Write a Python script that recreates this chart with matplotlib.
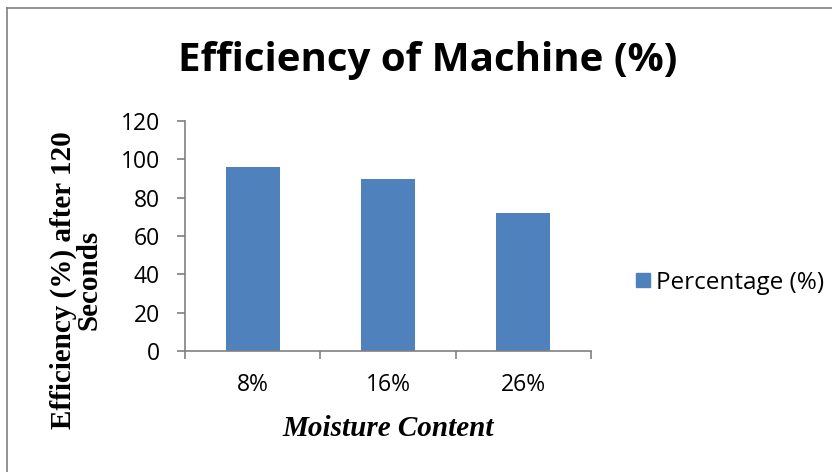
import matplotlib
matplotlib.use("Agg")
import matplotlib.pyplot as plt
from matplotlib.lines import Line2D

categories = ["8%", "16%", "26%"]
values = [96, 90, 72]
yticks = [0, 20, 40, 60, 80, 100, 120]
series_name = "Percentage (%)"

fig = plt.figure(figsize=(8.32, 4.72), dpi=100)
ax = fig.add_axes([185/832, 1-351/472, (591-185)/832, (351-121)/472])

x = list(range(len(categories)))
ax.bar(x, values, width=0.4, color="#4F81BD", label=series_name, zorder=2)
ax.set_xlim(-0.5, len(categories)-0.5)
ax.set_ylim(0, 120)
ax.set_yticks(yticks)
ax.set_yticklabels([str(v) for v in yticks], fontsize=16.5, family="Open Sans")
ax.set_xticks([i - 0.5 for i in range(len(categories)+1)])
ax.set_xticklabels([])
ax.set_xticks(x, minor=True)
ax.set_xticklabels(categories, minor=True, fontsize=16.5, family="Open Sans")
ax.tick_params(axis="x", which="minor", length=0, pad=16)
ax.tick_params(axis="x", which="major", length=6, color="#808080", width=1.2)
ax.tick_params(axis="y", length=6, color="#808080", width=1.2, pad=12)
for s in ["top", "right"]:
    ax.spines[s].set_visible(False)
for s in ["left", "bottom"]:
    ax.spines[s].set_color("#808080")
    ax.spines[s].set_linewidth(1.2)

fig.text(428/832, 1-60/472, "Efficiency of Machine (%)", ha="center", va="center",
         fontsize=29, fontweight="bold", family="Open Sans")
fig.text(76/832, 1-280/472, "Efficiency (%) after 120\nSeconds", ha="center", va="center",
         rotation=90, fontsize=21, fontweight="bold", family="Liberation Serif", linespacing=0.95)
fig.text(388/832, 1-428/472, "Moisture Content", ha="center", va="center",
         fontsize=21, fontweight="bold", fontstyle="italic", family="Liberation Serif")

leg = fig.legend(handles=[Line2D([], [], marker="s", linestyle="none", markersize=10.5,
                                 color="#4F81BD")], labels=[series_name],
                 loc="center left", bbox_to_anchor=(609/832, 1-283/472), frameon=False,
                 prop={"family": "Open Sans", "size": 17.5}, handletextpad=0.05, handlelength=1.0)

# chart border
fig.add_artist(Line2D([7/832, 7/832], [0, 1-8/472], transform=fig.transFigure, color="#808080", lw=1.2))
fig.add_artist(Line2D([7/832, 1], [1-8/472, 1-8/472], transform=fig.transFigure, color="#808080", lw=1.2))

fig.savefig("out.png", dpi=100)
